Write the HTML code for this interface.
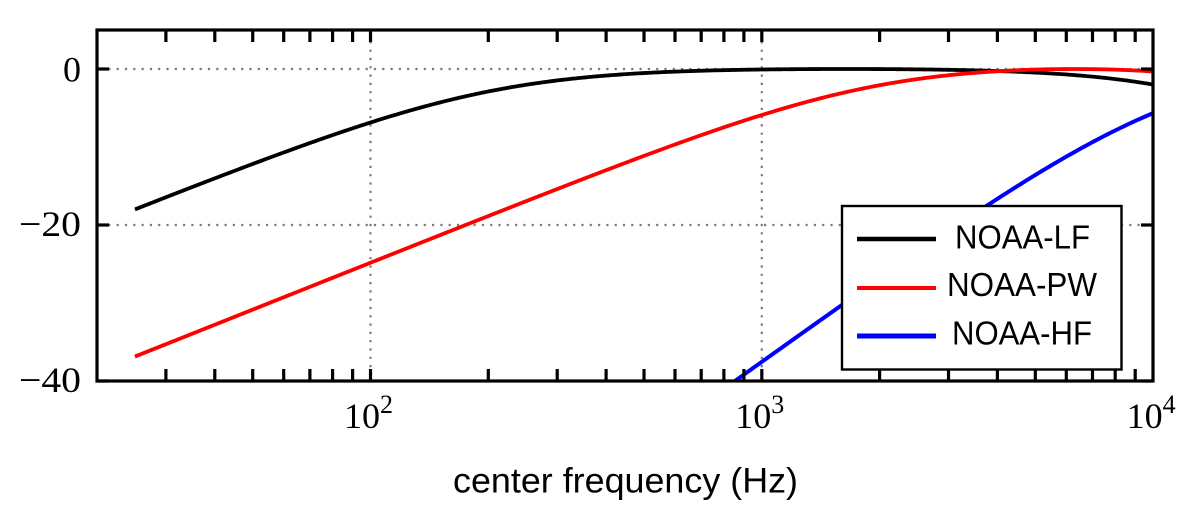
<!DOCTYPE html>
<html><head><meta charset="utf-8">
<style>html,body{margin:0;padding:0;background:#fff;width:1197px;height:513px;overflow:hidden;position:relative}svg{display:block;position:absolute;left:0;top:0}
.sr{font-family:"Liberation Serif","Times New Roman",serif;font-size:36px}
.sup{font-family:"Liberation Serif","Times New Roman",serif;font-size:26px}
.ss{font-family:"Liberation Sans",Arial,sans-serif}
</style>
</head><body>
<svg id="s" width="1197" height="513" viewBox="0 0 1197 513" xmlns="http://www.w3.org/2000/svg">
<defs><clipPath id="c"><rect x="97" y="30" width="1056" height="351"/></clipPath></defs>
<g stroke="#7a7a7a" stroke-width="2.2" stroke-dasharray="2.2 6.1" fill="none">
 <line x1="100" y1="69" x2="1151" y2="69"/>
 <line x1="100" y1="225" x2="1151" y2="225"/>
 <line x1="370.5" y1="33" x2="370.5" y2="379"/>
 <line x1="761.8" y1="33" x2="761.8" y2="379"/>
</g>
<g id="curves" clip-path="url(#c)" fill="none" stroke-width="3.8" stroke-linejoin="round" stroke-linecap="butt"></g>
<g id="ticks" stroke="#000" stroke-width="3.2"></g>
<rect x="842" y="206" width="279.5" height="163.5" fill="#fff" stroke="#000" stroke-width="2.4"/>
<line x1="857" y1="239" x2="936" y2="239" stroke="#000" stroke-width="4.5"/>
<line x1="857" y1="288" x2="936" y2="288" stroke="#f00" stroke-width="4"/>
<line x1="857" y1="336" x2="936" y2="336" stroke="#00f" stroke-width="5"/>
<g class="ss" style="font-size:33px" fill="#000">
 <text x="955" y="248.5" textLength="135" lengthAdjust="spacingAndGlyphs">NOAA-LF</text>
 <text x="947" y="296" textLength="150" lengthAdjust="spacingAndGlyphs">NOAA-PW</text>
 <text x="952" y="344.5" textLength="140" lengthAdjust="spacingAndGlyphs">NOAA-HF</text>
</g>
<rect x="97" y="30" width="1056" height="351" fill="none" stroke="#000" stroke-width="3.2"/>
<g fill="#000">
 <text class="sr" x="81" y="81.5" text-anchor="end">0</text>
 <text class="sr" x="81" y="236" text-anchor="end" textLength="62" lengthAdjust="spacingAndGlyphs">−20</text>
 <text class="sr" x="81" y="392" text-anchor="end" textLength="62" lengthAdjust="spacingAndGlyphs">−40</text>
 <text class="sr" x="344" y="428">10</text><text class="sup" x="380" y="413">2</text>
 <text class="sr" x="735.3" y="428">10</text><text class="sup" x="771.3" y="413">3</text>
 <text class="sr" x="1126.6" y="428">10</text><text class="sup" x="1162.6" y="413">4</text>
</g>
<text class="ss" x="453" y="492.5" style="font-size:35.5px" textLength="345" lengthAdjust="spacingAndGlyphs" fill="#000">center frequency (Hz)</text>
</svg>
<script>
(function(){
var NS="http://www.w3.org/2000/svg";
var L=Math.log10||function(v){return Math.log(v)/Math.LN10;};
function X(f){return 97+(L(f)-L(20))*391.3;}
function Y(d){return 69-d*7.8;}
function W(f,a,b,f1,f2,C){f=f/1000;var r1=(f/f1)*(f/f1),r2=(f/f2)*(f/f2);
 return C+10*L(Math.pow(r1,a)/(Math.pow(1+r1,a)*Math.pow(1+r2,b)));}
var series=[
 {p:[1,2,0.2,19,0.13],c:"#000"},
 {p:[1,2,1.9,30,0.75],c:"#f00"},
 {p:[1.8,2,12,140,1.36],c:"#00f",w:4}
];
var g=document.getElementById("curves");
series.forEach(function(s){
 var d="",n=500,l0=L(25),l1=L(10000),started=false;
 for(var i=0;i<=n;i++){var f=Math.pow(10,l0+(l1-l0)*i/n);
  var y=Y(W(f,s.p[0],s.p[1],s.p[2],s.p[3],s.p[4])); if(y>392)y=392;
  d+=(started?"L":"M")+X(f).toFixed(2)+" "+y.toFixed(2);started=true;}
 var p=document.createElementNS(NS,"path");p.setAttribute("d",d);p.setAttribute("stroke",s.c);
 if(s.w)p.setAttribute("stroke-width",s.w);g.appendChild(p);
});
var t=document.getElementById("ticks");
function ln(x1,y1,x2,y2){var e=document.createElementNS(NS,"line");
 e.setAttribute("x1",x1);e.setAttribute("y1",y1);e.setAttribute("x2",x2);e.setAttribute("y2",y2);t.appendChild(e);}
[10,100,1000].forEach(function(dec){for(var k=1;k<=9;k++){var f=dec*k;if(f<=20||f>=10000)continue;
 var x=X(f);ln(x,381,x,369);ln(x,30,x,42);}});
[69,225,381].forEach(function(y){ln(97,y,109,y);ln(1153,y,1141,y);});
})();
</script>
</body></html>
